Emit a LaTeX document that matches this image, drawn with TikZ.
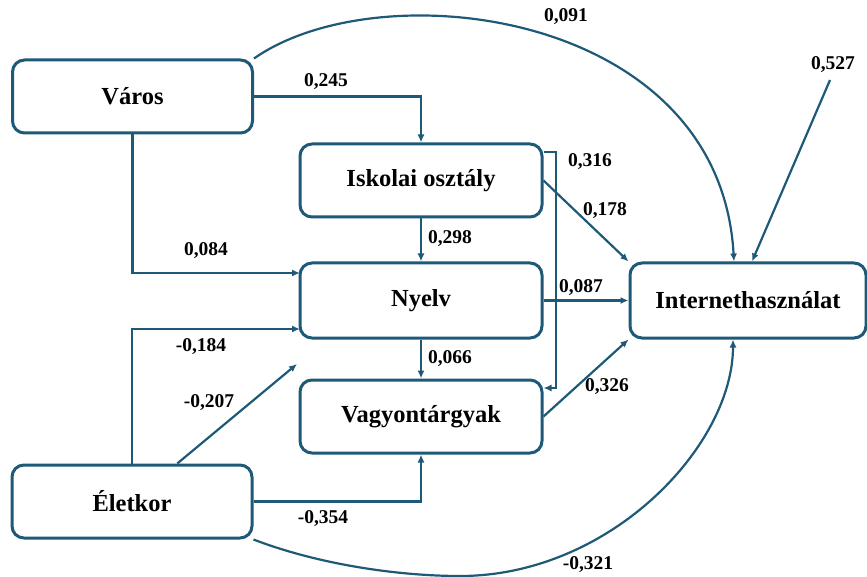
\documentclass[tikz,border=0pt]{standalone}
\usepackage{fontspec}
\setmainfont{Liberation Serif}
\usepackage{tikz}
\usetikzlibrary{arrows.meta}
\definecolor{pathblue}{RGB}{30,90,120}
\tikzstyle{varbox} = [draw=pathblue, fill=white, line width=3pt, rounded corners=12pt, minimum width=240pt, minimum height=73pt, inner sep=0pt, font=\fontsize{24.5}{28}\selectfont\bfseries]
\tikzstyle{effect} = [-{Latex[length=8pt,width=7pt]}, draw=pathblue, line width=2.2pt]
\tikzstyle{coef} = [inner sep=0pt, font=\fontsize{19.5}{22}\selectfont\bfseries]

\begin{document}
\begin{tikzpicture}[yscale=-1]
			\useasboundingbox (0pt,0pt) rectangle (867pt,577pt);
			\fill[white] (0pt,0pt) rectangle (867pt,577pt);
			% variables
			\node[varbox] (varos) at (132.5pt,96.5pt) {Város};
			\node[varbox, minimum width=242pt] (iskola) at (421pt,180.5pt) {Iskolai osztály};
			\node[varbox, minimum width=242pt, minimum height=75pt] (nyelv) at (421pt,300.5pt) {Nyelv};
			\node[varbox, minimum width=242pt] (vagyon) at (421pt,416.5pt) {Vagyontárgyak};
			\node[varbox] (eletkor) at (132pt,501.5pt) {Életkor};
			\node[varbox, minimum width=236pt, minimum height=75pt] (internet) at (748pt,300.5pt) {Internethasználat};
			% bend points and free ends
			\coordinate (nyelvA) at (300pt,273pt);
			\coordinate (nyelvB) at (300pt,329pt);
			\coordinate (kor207) at (297pt,364pt);
			\coordinate (loopA) at (556pt,152pt);
			\coordinate (loopB) at (556pt,388pt);
			\coordinate (resid) at (830pt,80pt);
			% paths
			\draw[effect] (varos.east) -| (iskola.north);
			\draw[effect] (varos.south) |- (nyelvA);
			\draw[effect] (varos.north east) .. controls (380pt,-30pt) and (720pt,10pt) .. ([xshift=-14pt]internet.north);
			\draw[effect] (resid) -- ([xshift=4pt]internet.north);
			\draw[effect] (iskola.south) -- (nyelv.north);
			\draw[effect] (iskola.east |- loopA) -- (loopA) -- (loopB) -- (vagyon.east |- loopB);
			\draw[effect] (iskola.east) -- (internet.north west);
			\draw[effect] (nyelv.east) -- (internet.west);
			\draw[effect] (nyelv.south) -- (vagyon.north);
			\draw[effect] (vagyon.east) -- (internet.south west);
			\draw[effect] (eletkor.north) |- (nyelvB);
			\draw[effect] (eletkor.40) -- (kor207);
			\draw[effect] (eletkor.east) -| (vagyon.south);
			\draw[effect] (eletkor.south east) .. controls (320pt,565pt) and (400pt,576pt) .. (460pt,576pt)
				.. controls (610pt,576pt) and (733pt,446pt) .. ([xshift=-15pt]internet.south);
			% coefficients
			\node[coef] (c091) at (566pt,17pt) {0,091};
			\node[coef] (c527) at (833pt,65pt) {0,527};
			\node[coef] (c245) at (326pt,82pt) {0,245};
			\node[coef] (c316) at (590pt,162pt) {0,316};
			\node[coef] (c178) at (605pt,211pt) {0,178};
			\node[coef] (c084) at (206pt,251pt) {0,084};
			\node[coef] (c298) at (450pt,239pt) {0,298};
			\node[coef] (c087) at (581pt,288pt) {0,087};
			\node[coef] (c066) at (450pt,359pt) {0,066};
			\node[coef] (c326) at (607pt,387pt) {0,326};
			\node[coef] (c184) at (201pt,347pt) {-0,184};
			\node[coef] (c207) at (209pt,403pt) {-0,207};
			\node[coef] (c354) at (323pt,519pt) {-0,354};
			\node[coef] (c321) at (588pt,565pt) {-0,321};
		\end{tikzpicture}
\end{document}
